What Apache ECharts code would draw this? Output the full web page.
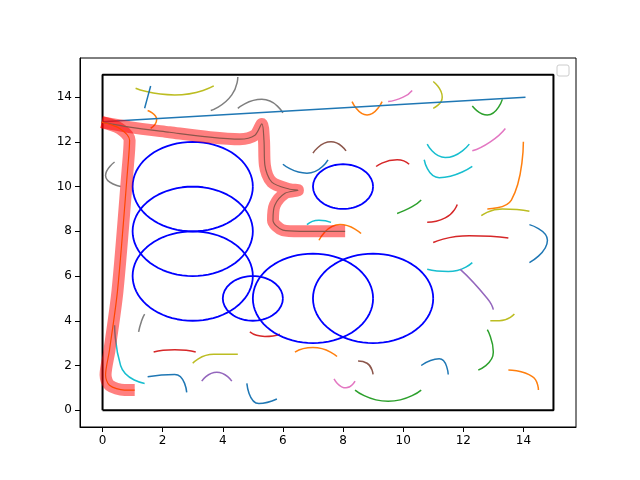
<!DOCTYPE html>
<html>
<head>
<meta charset="utf-8">
<script src="https://cdn.jsdelivr.net/npm/echarts@6/dist/echarts.min.js"></script>
<style>html,body{margin:0;padding:0;background:#fff}#chart{width:640px;height:480px}</style>
</head>
<body>
<div id="chart"></div>
<script>
const tickValues = [0, 2, 4, 6, 8, 10, 12, 14]
const boundary = [[0, 0], [15, 0], [15, 15], [0, 15], [0, 0]]
// obstacles: [cx, cy, r]
const obstacles = [[3, 10, 2], [3, 8, 2], [3, 6, 2], [5, 5, 1], [7, 5, 2], [9, 5, 2], [8, 10, 1]]
const pathA = [[-0.03, 12.88], [0.9, 12.66], [2.23, 12.43], [3.57, 12.21], [4.57, 12.12], [5.07, 12.3], [5.3, 12.8],
  [5.37, 12.07], [5.4, 10.96], [5.63, 10.2], [6.23, 9.88], [6.5, 9.84], [6.07, 9.7], [5.73, 9.17], [5.67, 8.5],
  [6.0, 8.05], [6.57, 8.0], [8.07, 8.0]]
const pathB = [[-0.03, 12.88], [0.57, 12.6], [0.9, 12.07], [0.83, 10.7], [0.5, 5.37], [0.23, 2.68], [0.1, 1.57],
  [0.23, 1.12], [0.73, 0.9], [1.07, 0.9]]
const blueLine = [[0, 12.9], [14.07, 14.0]]
const tab10 = ['#1f77b4', '#ff7f0e', '#2ca02c', '#d62728', '#9467bd', '#8c564b', '#e377c2', '#7f7f7f', '#bcbd22', '#17becf']
// small tree branches: [colorIndex, x1, y1, x2, y2, x3, y3]
const branches = [
  [8, 1.1, 14.4, 2.4, 14.1, 3.7, 14.5], [7, 3.6, 13.4, 4.3, 14.1, 4.5, 14.9], [7, 4.5, 13.5, 5.3, 13.9, 6.0, 13.3],
  [0, 1.4, 13.5, 1.5, 14.0, 1.6, 14.5], [1, 8.3, 13.8, 8.8, 13.2, 9.3, 13.8], [6, 9.5, 13.8, 10.0, 14.0, 10.3, 14.3],
  [8, 11.0, 13.5, 11.3, 14.0, 11.0, 14.7], [2, 12.3, 13.6, 12.8, 13.2, 13.3, 13.9], [0, 6.0, 11.0, 6.8, 10.6, 7.5, 11.2],
  [9, 10.7, 11.2, 11.2, 10.4, 12.3, 10.9], [1, 12.8, 9.0, 13.6, 9.4, 14.0, 12.0], [3, 11.0, 7.5, 12.2, 7.8, 13.5, 7.7],
  [9, 10.8, 6.3, 11.5, 6.2, 12.3, 6.6], [0, 14.2, 8.3, 14.8, 7.6, 14.2, 6.6], [8, 12.6, 8.7, 13.3, 9.0, 14.2, 8.9],
  [4, 11.9, 6.3, 12.8, 5.0, 13.0, 4.5], [8, 13.7, 4.3, 13.2, 4.0, 12.9, 4.0], [2, 12.8, 3.6, 13.0, 2.6, 12.5, 1.8],
  [0, 10.6, 2.0, 11.2, 2.3, 11.5, 1.6], [1, 13.5, 1.8, 14.3, 1.5, 14.5, 0.9], [2, 8.4, 0.9, 9.5, 0.4, 10.6, 0.9],
  [6, 7.7, 1.4, 8.1, 1.0, 8.4, 1.3], [0, 4.8, 1.2, 5.2, 0.3, 5.8, 0.5], [1, 6.4, 2.6, 7.0, 2.8, 7.8, 2.4],
  [3, 1.7, 2.6, 2.4, 2.7, 3.1, 2.6], [4, 3.3, 1.3, 3.8, 1.7, 4.3, 1.3], [8, 3.0, 2.1, 3.7, 2.5, 4.5, 2.5],
  [9, 0.4, 3.8, 0.6, 2.0, 1.4, 1.2], [0, 1.5, 1.5, 2.4, 1.6, 2.8, 0.8], [7, 1.2, 3.5, 1.3, 4.0, 1.4, 4.3],
  [3, 4.9, 3.5, 5.4, 3.3, 5.9, 3.4], [5, 8.5, 2.2, 8.8, 2.1, 9.0, 1.6], [1, 7.2, 7.6, 7.9, 8.3, 8.6, 7.9],
  [9, 6.8, 8.3, 7.2, 8.5, 7.6, 8.4], [2, 9.8, 8.8, 10.3, 9.1, 10.6, 9.4], [3, 10.8, 8.4, 11.4, 8.6, 11.8, 9.2],
  [5, 7.0, 11.5, 7.6, 12.0, 8.1, 11.6], [6, 12.3, 11.6, 12.9, 12.0, 13.4, 12.6], [9, 10.8, 11.9, 11.4, 11.3, 12.2, 11.9],
  [7, 0.4, 11.1, 0.1, 10.5, 0.6, 10.0], [3, 9.1, 10.9, 9.8, 11.2, 10.2, 11.0], [1, 1.6, 12.6, 1.8, 13.0, 1.5, 13.4]
]
const toEllipse = ([cx, cy, r]) => {
  const pts = []
  for (let i = 0; i <= 72; i++) {
    const t = i / 72 * Math.PI * 2
    pts.push([cx + r * Math.cos(t), cy + r * Math.sin(t)])
  }
  return pts
}
const lineSeries = (data, color, width, extra = {}) => Object.assign({
  type: 'line', data, showSymbol: false, silent: true, lineStyle: { color, width }, animation: false
}, extra)

const series = []
branches.forEach(b => {
  series.push(lineSeries([[b[1], b[2]], [b[3], b[4]], [b[5], b[6]]], tab10[b[0]], 1.5, { smooth: 0.6 }))
})
series.push(lineSeries(blueLine, '#1f77b4', 1.5))
series.push(lineSeries(boundary, '#000', 2))
obstacles.forEach(o => series.push(lineSeries(toEllipse(o), '#0000ff', 1.8)))
series.push(lineSeries(pathA, 'rgba(255,0,0,0.5)', 12, { smooth: 0.3 }))
series.push(lineSeries(pathB, 'rgba(255,0,0,0.5)', 12, { smooth: 0.3 }))
series.push(lineSeries(pathA, '#8c564b', 1.2, { smooth: 0.3 }))
series.push(lineSeries(pathB, '#ff4500', 1.2, { smooth: 0.3 }))

const axisCommon = {
  type: 'value', min: -0.75, max: 15.75,
  splitLine: { show: false },
  axisLine: { show: true, onZero: false, lineStyle: { color: '#000' } },
  axisTick: { show: true, customValues: tickValues, lineStyle: { color: '#000' } },
  axisLabel: { color: '#000', fontSize: 12, fontFamily: 'DejaVu Sans', customValues: tickValues }
}
const chart = echarts.init(document.getElementById('chart'))
chart.setOption({
  animation: false,
  grid: { left: 80, right: 64, top: 58, bottom: 53, show: true, borderColor: '#000', borderWidth: 1 },
  xAxis: Object.assign({}, axisCommon),
  yAxis: Object.assign({}, axisCommon),
  series,
  graphic: [{ type: 'rect', shape: { x: 557, y: 65, width: 12, height: 11, r: 2 },
    style: { fill: '#fff', stroke: '#ccc', lineWidth: 1 } }]
})
</script>
</body>
</html>
